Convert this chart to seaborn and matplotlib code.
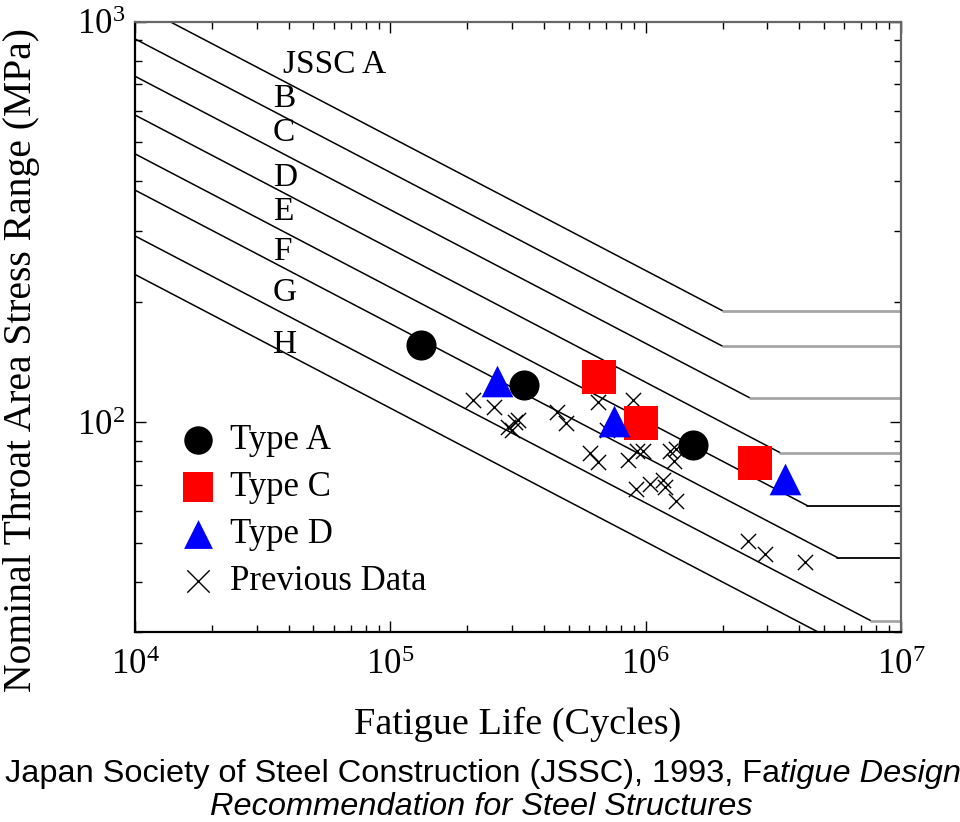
import numpy as np
import pandas as pd
import matplotlib
matplotlib.use("Agg")
import matplotlib.pyplot as plt
import seaborn as sns
from matplotlib.ticker import LogLocator, LogFormatterSciNotation, NullFormatter

# ---------------- data ----------------
# JSSC design categories: stress at N=1e4 (line start), knee (cut-off) point
categories = ["A", "B", "C", "D", "E", "F", "G", "H"]
start_N = [1e4] * 8
start_S = [1111, 906, 731, 585, 468, 380, 292, 234]
knee_N = [2.0e6, 2.0e6, 2.57e6, 3.37e6, 4.3e6, 5.64e6, 7.63e6, 1.05e7]
knee_S = [190, 155, 115, 84, 62, 46, 32, 23]
end_N = [1e7] * 8
cutoff_grey = [True, True, True, True, False, False, True, True]

label_text = ["JSSC A", "B", "C", "D", "E", "F", "G", "H"]
label_N = [3.8e4, 3.47e4, 3.47e4, 3.47e4, 3.47e4, 3.47e4, 3.47e4, 3.47e4]
label_S = [780, 644, 527, 407, 335, 266, 211, 156]

typeA_N = [1.32e5, 3.34e5, 1.53e6]
typeA_S = [155.7, 123.7, 88.1]
typeC_N = [6.59e5, 9.57e5, 2.68e6]
typeC_S = [129.7, 99.6, 79.4]
typeD_N = [2.61e5, 7.52e5, 3.52e6]
typeD_S = [127.1, 100.7, 72.1]
prev_N = [2.10e5, 2.55e5, 2.90e5, 3.08e5, 3.17e5, 2.99e5, 4.49e5, 4.88e5,
          6.53e5, 8.95e5, 7.08e5, 6.06e5, 6.53e5, 8.55e5, 9.23e5, 9.79e5,
          1.32e6, 1.25e6, 1.29e6, 1.17e6, 1.04e6, 9.17e5, 1.19e6, 1.32e6,
          2.52e6, 2.94e6, 4.21e6]
prev_S = [113.5, 109.2, 97.3, 100.2, 101.2, 95.5, 106.1, 99.6,
          112.4, 113.9, 95.9, 83.8, 79.6, 80.7, 84.8, 84.8,
          85.9, 84.8, 80.1, 71.9, 70.3, 68.3, 68.9, 63.8,
          50.7, 47.0, 44.8]

# ---------------- style ----------------
sns.set_theme(style="white")
plt.rcParams["font.family"] = ["Liberation Serif", "DejaVu Serif"]
plt.rcParams["mathtext.fontset"] = "stix"
for k in ["text.color", "axes.labelcolor", "xtick.color", "ytick.color"]:
    plt.rcParams[k] = "black"

fig = plt.figure(figsize=(9.6, 8.22), dpi=100)
ax = fig.add_axes([135 / 960, 190 / 822, 766 / 960, 610.3 / 822])

# slanted parts
slant = pd.DataFrame({
    "cat": np.repeat(categories, 2),
    "N": np.ravel(np.column_stack([start_N, knee_N])),
    "S": np.ravel(np.column_stack([start_S, knee_S])),
})
sns.lineplot(data=slant, x="N", y="S", units="cat", estimator=None, sort=False,
             color="black", lw=1.1, legend=False, ax=ax)

# horizontal cut-off parts
flat = pd.DataFrame({
    "cat": np.repeat(categories, 2),
    "N": np.ravel(np.column_stack([knee_N, end_N])),
    "S": np.repeat(knee_S, 2),
})
pal = {c: ("#a6a6a6" if g else "black") for c, g in zip(categories, cutoff_grey)}
lw_map = {c: (2.0 if g else 1.3) for c, g in zip(categories, cutoff_grey)}
for c in categories:
    sub = flat[flat["cat"] == c]
    sns.lineplot(data=sub, x="N", y="S", estimator=None, sort=False,
                 color=pal[c], lw=lw_map[c], legend=False, ax=ax)

for t, n, s in zip(label_text, label_N, label_S):
    ax.text(n, s, t, ha="left", va="center", fontsize=24, color="black")

# data points
sns.scatterplot(x=typeA_N, y=typeA_S, marker="o", s=470, color="black",
                linewidth=0, label="Type A", ax=ax, zorder=5)
sns.scatterplot(x=typeC_N, y=typeC_S, marker="s", s=580, color="#ff0000",
                linewidth=0, label="Type C", ax=ax, zorder=5)
sns.scatterplot(x=typeD_N, y=typeD_S, marker="^", s=520, color="#0000ff",
                linewidth=0, label="Type D", ax=ax, zorder=5)
sns.scatterplot(x=prev_N, y=prev_S, marker="x", s=120, color="black",
                linewidth=1.0, label="Previous Data", ax=ax, zorder=4)

ax.set_xscale("log")
ax.set_yscale("log")
ax.set_xlim(1e4, 1e7)
ax.set_ylim(30, 1000)

ax.xaxis.set_major_locator(LogLocator(base=10, numticks=10))
ax.xaxis.set_minor_locator(LogLocator(base=10, subs=np.arange(2, 10), numticks=20))
ax.yaxis.set_major_locator(LogLocator(base=10, numticks=10))
ax.yaxis.set_minor_locator(LogLocator(base=10, subs=np.arange(2, 10), numticks=20))
ax.xaxis.set_major_formatter(LogFormatterSciNotation())
ax.yaxis.set_major_formatter(LogFormatterSciNotation())
ax.xaxis.set_minor_formatter(NullFormatter())
ax.yaxis.set_minor_formatter(NullFormatter())

ax.tick_params(which="both", direction="in", top=True, right=True, bottom=True, left=True,
               colors="black", width=1.0)
ax.tick_params(which="major", length=8, labelsize=25)
ax.tick_params(axis="x", which="major", pad=12)
ax.tick_params(axis="y", which="major", pad=7)
ax.tick_params(which="minor", length=5)

for side in ["left", "bottom"]:
    ax.spines[side].set_color("black")
    ax.spines[side].set_linewidth(1.6)
for side in ["top", "right"]:
    ax.spines[side].set_color("#666666")
    ax.spines[side].set_linewidth(1.6)

ax.set_xlabel("Fatigue Life (Cycles)", fontsize=27.5, labelpad=18)
ax.set_ylabel("Nominal Throat Area Stress Range (MPa)", fontsize=28.5)
ax.yaxis.set_label_coords(-0.124, 0.446)
ax.grid(False)

leg = ax.legend(loc="upper left", bbox_to_anchor=(0.06, 0.34), frameon=False,
                fontsize=25, handlelength=1.0, handletextpad=0.4, labelspacing=0.4,
                borderpad=0, borderaxespad=0)
hs = leg.legend_handles
hs[0].set_sizes([420])
hs[1].set_sizes([460])
hs[2].set_sizes([430])
hs[3].set_sizes([260])

# caption
fig.canvas.draw()
r = fig.canvas.get_renderer()
cap_font = ["Liberation Sans", "DejaVu Sans"]
t1 = fig.text(5 / 960, 1 - 774 / 822, "Japan Society of Steel Construction (JSSC), 1993, Fa",
              family=cap_font, fontsize=23.4, ha="left", va="center", color="black")
bb = t1.get_window_extent(renderer=r)
t2 = fig.text(bb.x1 / fig.bbox.width, 1 - 774 / 822, "tigue Design",
              family=cap_font, fontsize=23.4, style="italic", ha="left", va="center",
              color="black")
fig.text(481 / 960, 1 - 807 / 822, "Recommendation for Steel Structures",
         family=cap_font, fontsize=23.4, style="italic", ha="center", va="center",
         color="black")

fig.savefig("out.png", dpi=100, facecolor="white")
